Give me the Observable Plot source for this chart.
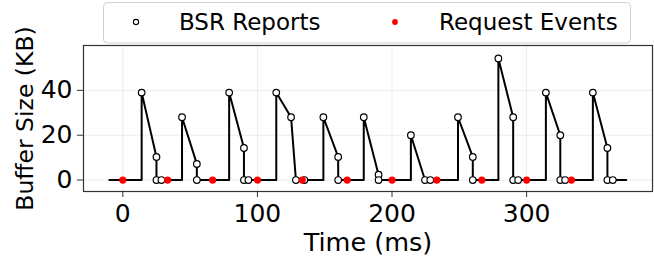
<!DOCTYPE html>
<html>
<head>
<meta charset="utf-8">
<script src="https://cdn.jsdelivr.net/npm/d3@7"></script>
<script src="https://cdn.jsdelivr.net/npm/@observablehq/plot@0.6"></script>
<style>
  html, body { margin: 0; padding: 0; background: #fff; }
  #wrap { position: relative; width: 654px; height: 256px; font-family: "DejaVu Sans", sans-serif; }
  #legend { position: absolute; left: 0; top: 0; }
</style>
</head>
<body>
<div id="wrap"></div>
<script>
// Buffer trace (line)
const traceTime = [-10, 14, 14, 25, 25, 44, 44, 55, 55, 79, 79, 90, 90, 114, 114, 125, 128.6, 149, 149, 160, 160, 179, 179, 190, 190, 214, 214, 224.5, 249, 249, 260, 260, 279, 279, 290, 290, 314.3, 314.3, 325, 325, 349.2, 349.2, 360, 360, 374];
const traceKB   = [0, 0, 39, 10.3, 0, 0, 28, 7.2, 0, 0, 39, 14.3, 0, 0, 39, 28, 0, 0, 28, 10.3, 0, 0, 28, 2.4, 0, 0, 20, 0, 0, 28, 10.3, 0, 0, 54.2, 28, 0, 0, 39, 20, 0, 0, 39, 14.3, 0, 0];

// BSR reports (open circles)
const bsrTime = [14, 25, 25, 28.7, 44, 55, 55, 79, 90, 90, 93.3, 114, 125, 128.6, 134.9, 149, 160, 160, 179, 190, 190, 214, 224.5, 228.4, 249, 260, 260, 279, 290, 290, 293.7, 314.3, 325, 325, 328.6, 349.2, 360, 360, 364];
const bsrKB   = [39, 10.3, 0, 0, 28, 7.2, 0, 39, 14.3, 0, 0, 39, 28, 0, 0, 28, 10.3, 0, 28, 2.4, 0, 20, 0, 0, 28, 10.3, 0, 54.2, 28, 0, 0, 39, 20, 0, 0, 39, 14.3, 0, 0];

// Request events (red dots at 0)
const requestTime = [0, 33.3, 66.7, 100, 133.3, 166.7, 200, 233.3, 266.7, 300, 333.3];
const requestKB   = [0, 0, 0, 0, 0, 0, 0, 0, 0, 0, 0];

const xTicks = [0, 100, 200, 300];
const yTicks = [0, 20, 40];
const legendLabels = ["BSR Reports", "Request Events"];

const trace = traceTime.map((t, i) => ({t, kb: traceKB[i]}));
const bsr = bsrTime.map((t, i) => ({t, kb: bsrKB[i]}));
const req = requestTime.map((t, i) => ({t, kb: requestKB[i]}));

const chart = Plot.plot({
  width: 654,
  height: 256,
  marginLeft: 83,
  marginRight: 2,
  marginTop: 45,
  marginBottom: 65,
  style: {fontFamily: "DejaVu Sans", fontSize: "25px", color: "#000", background: "transparent"},
  x: {domain: [-29.2, 393.5]},
  y: {domain: [-5.1, 60]},
  marks: [
    Plot.gridX(xTicks, {stroke: "#000", strokeOpacity: 0.08, strokeWidth: 1}),
    Plot.gridY(yTicks, {stroke: "#000", strokeOpacity: 0.08, strokeWidth: 1}),
    Plot.axisX({ticks: xTicks, tickSize: 6, tickPadding: 7, label: null, stroke: "#333", fill: "#000"}),
    Plot.axisY({ticks: yTicks, tickSize: 6, tickPadding: 5, label: null, stroke: "#333", fill: "#000"}),
    Plot.line(trace, {x: "t", y: "kb", stroke: "#000", strokeWidth: 2, curve: "linear"}),
    Plot.dot(bsr, {x: "t", y: "kb", r: 3.3, fill: "#fff", stroke: "#000", strokeWidth: 1.2}),
    Plot.dot(req, {x: "t", y: "kb", r: 3.6, fill: "#ff0000", stroke: "none"}),
    Plot.frame({stroke: "#333", strokeWidth: 1.2}),
    Plot.text(["Time (ms)"], {frameAnchor: "bottom", dy: 59.3, lineAnchor: "bottom", fontSize: 25.5, fill: "#000"}),
    Plot.text(["Buffer Size (KB)"], {frameAnchor: "left", dx: -51, rotate: -90, lineAnchor: "bottom", textAnchor: "middle", fontSize: 23.5, fill: "#000"})
  ]
});
document.getElementById("wrap").appendChild(chart);

// Legend overlay
const lg = d3.select("#wrap").append("svg")
  .attr("id", "legend")
  .attr("width", 654).attr("height", 46)
  .style("font-family", "DejaVu Sans");
lg.append("rect")
  .attr("x", 103.5).attr("y", 2.5).attr("width", 527).attr("height", 40.5)
  .attr("rx", 4).attr("fill", "#fff").attr("fill-opacity", 0.85)
  .attr("stroke", "#d0d0d0").attr("stroke-width", 1);
lg.append("circle").attr("cx", 136).attr("cy", 22).attr("r", 2.6)
  .attr("fill", "#fff").attr("stroke", "#000").attr("stroke-width", 1.1);
lg.append("text").attr("x", 179).attr("y", 30).attr("font-size", 23).text(legendLabels[0]);
lg.append("circle").attr("cx", 395).attr("cy", 22).attr("r", 2.9).attr("fill", "#ff0000");
lg.append("text").attr("x", 439).attr("y", 30).attr("font-size", 23).text(legendLabels[1]);
</script>
</body>
</html>
